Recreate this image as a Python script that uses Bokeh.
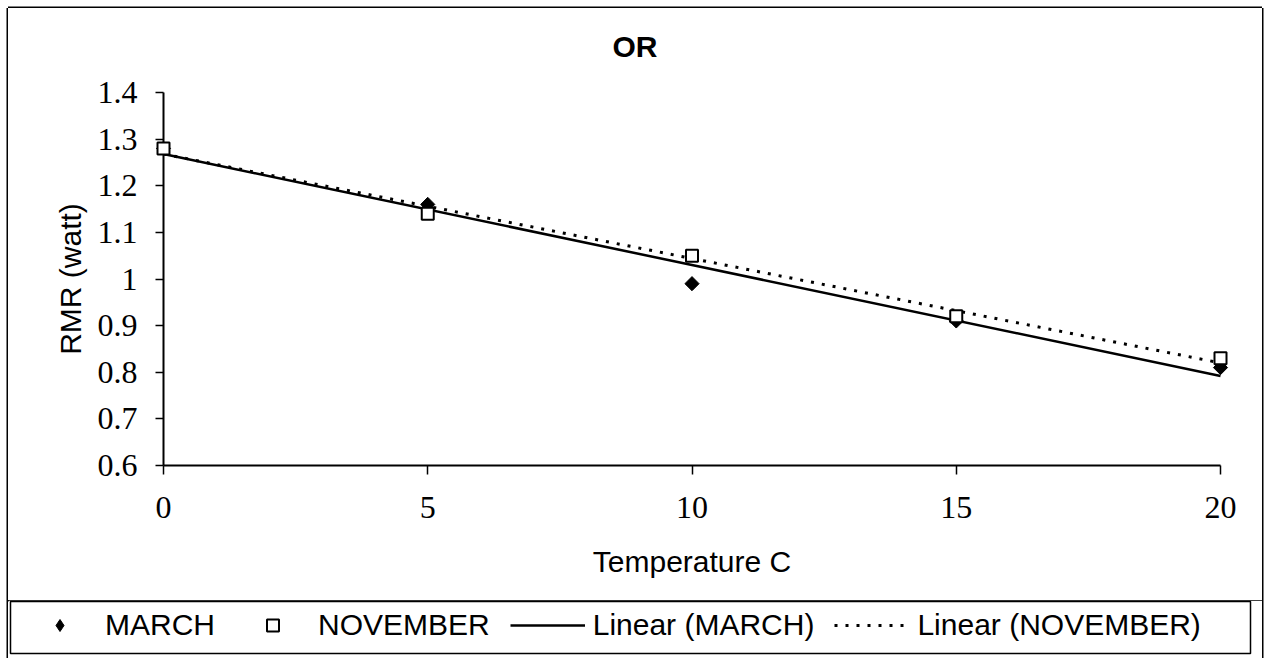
import numpy as np
from bokeh.plotting import figure
from bokeh.models import Range1d, FixedTicker, Legend, LegendItem, Label
from bokeh.embed import file_html
from bokeh.resources import INLINE

# ---- data ----
temps = [0, 5, 10, 15, 20]
march = [1.28, 1.16, 0.99, 0.91, 0.81]
november = [1.28, 1.14, 1.05, 0.92, 0.83]
x_ticks = [0, 5, 10, 15, 20]
x_tick_labels = ["0", "5", "10", "15", "20"]
y_ticks = [0.6, 0.7, 0.8, 0.9, 1.0, 1.1, 1.2, 1.3, 1.4]
y_tick_labels = ["0.6", "0.7", "0.8", "0.9", "1", "1.1", "1.2", "1.3", "1.4"]
series_names = ["MARCH", "NOVEMBER", "Linear (MARCH)", "Linear (NOVEMBER)"]
chart_title = "OR"

# linear trendlines (least squares, as Excel's "Linear" trendline)
m_fit = np.polyfit(temps, march, 1)
n_fit = np.polyfit(temps, november, 1)
trend_x = [min(temps), max(temps)]
march_trend = list(np.polyval(m_fit, trend_x))
nov_trend = list(np.polyval(n_fit, trend_x))

# styles
diamond_style = dict(marker="square", angle=np.pi / 4, size=10,
                     fill_color="black", line_color="black")
legend_diamond_style = dict(marker="diamond", size=19,
                            fill_color="black", line_color="black")
square_style = dict(marker="square", size=12, fill_color="white",
                    line_color="black", line_width=2)
solid_style = dict(line_color="black", line_width=2.5)
dotted_style = dict(line_color="black", line_width=3, line_dash="3 8")
EDGE = "1.5px"

# ---- title strip ----
TW, TH = 1254, 64
t = figure(width=TW, height=TH, output_backend="svg", toolbar_location=None,
           x_range=Range1d(0, 1), y_range=Range1d(0, 1),
           x_axis_type=None, y_axis_type=None, min_border=0,
           margin=(8, 8, 0, 8))
t.styles = {"box-shadow": f"-{EDGE} 0 0 0 black, {EDGE} 0 0 0 black, 0 -{EDGE} 0 0 black"}
t.xgrid.visible = False
t.ygrid.visible = False
t.outline_line_color = None
t.background_fill_color = "white"
t.border_fill_color = "white"
t.add_layout(Label(x=604, y=26, x_units="screen", y_units="screen", text=chart_title,
                   text_align="left", text_baseline="alphabetic",
                   text_font="Liberation Sans", text_font_size="30px",
                   text_font_style="bold", text_color="black"))

# ---- main chart ----
W, H = 1254, 528
FL, FR, FT, FB = 155, 1212, 20, 393

p = figure(width=W, height=H, output_backend="svg", toolbar_location=None,
           x_range=Range1d(0, 20), y_range=Range1d(0.6, 1.4),
           min_border_left=FL, min_border_right=W - FR,
           min_border_top=FT, min_border_bottom=H - FB,
           margin=(0, 8, 0, 8))
p.styles = {"box-shadow": f"-{EDGE} 0 0 0 black, {EDGE} 0 0 0 black, 0 {EDGE} 0 0 black"}
p.background_fill_color = "white"
p.border_fill_color = "white"
p.outline_line_color = None
p.xgrid.visible = False
p.ygrid.visible = False

for ax in (p.xaxis[0], p.yaxis[0]):
    ax.axis_line_width = 2
    ax.axis_line_color = "black"
    ax.major_tick_line_color = "black"
    ax.major_tick_line_width = 1.5
    ax.major_tick_in = 0
    ax.minor_tick_line_color = None
    ax.major_label_text_font = "Liberation Serif"
    ax.major_label_text_font_size = "32px"
    ax.major_label_text_color = "black"
    ax.axis_label_text_font = "Liberation Sans"
    ax.axis_label_text_font_size = "30px"
    ax.axis_label_text_font_style = "normal"
    ax.axis_label_text_color = "black"

p.xaxis.ticker = FixedTicker(ticks=x_ticks)
p.xaxis.major_label_overrides = dict(zip(x_ticks, x_tick_labels))
p.xaxis.major_tick_out = 9
p.xaxis.major_label_standoff = 22
p.xaxis.axis_label = "Temperature C"
p.xaxis.axis_label_standoff = 24

p.yaxis.ticker = FixedTicker(ticks=y_ticks)
p.yaxis.major_label_overrides = dict(zip(y_ticks, y_tick_labels))
p.yaxis.major_tick_out = 8
p.yaxis.major_label_standoff = 18
p.yaxis.axis_label = "RMR (watt)"
p.yaxis.axis_label_standoff = 8

lm = p.line(trend_x, march_trend, **solid_style)
ln = p.line(trend_x, nov_trend, **dotted_style)
rm = p.scatter(temps, march, **diamond_style)
rn = p.scatter(temps, november, **square_style)
for r in (lm, ln, rm, rn):
    r.level = "overlay"

# ---- legend strip (boxed, spans the chart width) ----
LW, LH = 1254, 58
q = figure(width=LW, height=LH, output_backend="svg", toolbar_location=None,
           x_range=Range1d(100, 101), y_range=Range1d(100, 101),
           x_axis_type=None, y_axis_type=None,
           min_border_left=2, min_border_right=12, min_border_top=1, min_border_bottom=5,
           margin=(0, 8, 0, 8))
q.styles = {"box-shadow": f"-{EDGE} 0 0 0 black, {EDGE} 0 0 0 black"}
q.xgrid.visible = False
q.ygrid.visible = False
q.outline_line_color = "black"
q.outline_line_width = 1.5
q.background_fill_color = "white"
q.border_fill_color = "white"

# same series, drawn outside this strip's view; only their legend glyphs show
qlm = q.line(trend_x, march_trend, **solid_style)
qln = q.line(trend_x, nov_trend, **dotted_style)
qm = q.scatter(temps, march, **legend_diamond_style)
qn = q.scatter(temps, november, **square_style)

legend = Legend(items=[LegendItem(label=series_names[0], renderers=[qm]),
                       LegendItem(label=series_names[1], renderers=[qn]),
                       LegendItem(label=series_names[2], renderers=[qlm]),
                       LegendItem(label=series_names[3], renderers=[qln])],
                orientation="horizontal", location=(12, 11),
                glyph_width=75, glyph_height=30, label_height=30,
                label_standoff=8, spacing=20, padding=0, margin=0,
                border_line_color=None, background_fill_alpha=0,
                label_text_font="Liberation Sans", label_text_font_size="30px",
                label_text_color="black")
q.add_layout(legend, "center")

open("out.html", "w").write(file_html([t, p, q], INLINE))
